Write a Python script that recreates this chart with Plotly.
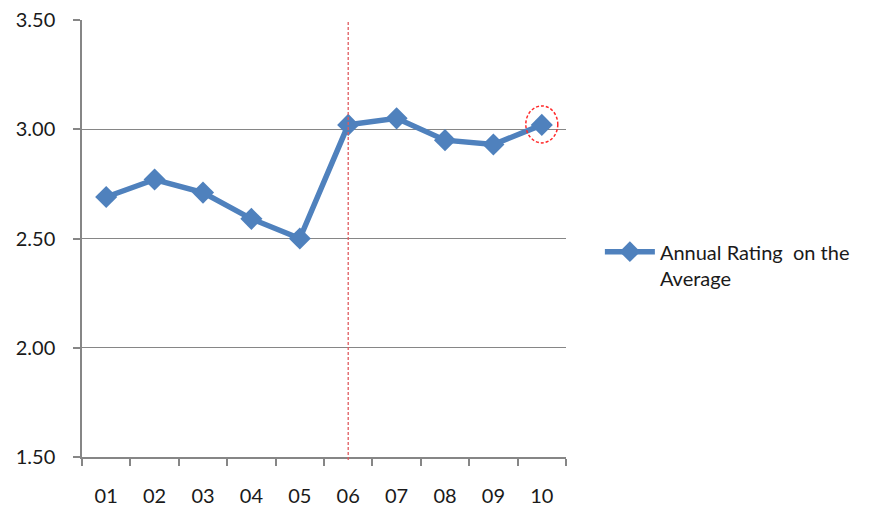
import plotly.graph_objects as go

categories = ["01", "02", "03", "04", "05", "06", "07", "08", "09", "10"]
ratings = [2.69, 2.77, 2.71, 2.59, 2.50, 3.02, 3.05, 2.95, 2.93, 3.02]
series_name = "Annual Rating  on the<br>Average"
marker_category = "06"
highlight_index = 9

fig = go.Figure()
fig.add_trace(go.Scatter(
    x=categories, y=ratings, name=series_name, mode="lines+markers",
    line=dict(color="#4F81BD", width=5.5),
    marker=dict(symbol="diamond", size=17, color="#4F81BD"),
))

vline_idx = categories.index(marker_category)
fig.add_shape(type="line", xref="x", yref="paper",
              x0=vline_idx, x1=vline_idx, y0=-0.007, y1=1,
              line=dict(color="#E05A5E", width=1.3, dash="3px,2px"))
fig.add_shape(type="circle", xref="x", yref="y",
              xsizemode="pixel", ysizemode="pixel",
              xanchor=highlight_index, yanchor=ratings[highlight_index],
              x0=-16, x1=16, y0=-18, y1=19,
              line=dict(color="#FF2A2A", width=1.5, dash="3px,2px"))

fig.update_layout(
    width=878, height=510,
    margin=dict(l=74, r=320, t=12, b=61, autoexpand=False),
    plot_bgcolor="white", paper_bgcolor="white",
    font=dict(family="Lato, 'Open Sans', sans-serif", size=20, color="#1a1a1a"),
    showlegend=True,
    legend=dict(x=1.07, y=0.44, xanchor="left", yanchor="middle", valign="top",
                itemwidth=50, font=dict(size=20, color="#1a1a1a"),
                bgcolor="rgba(0,0,0,0)"),
    xaxis=dict(type="category", range=[-0.5, 9.5], showline=True, linecolor="#868686",
               linewidth=1.5, ticks="outside", tickson="boundaries", ticklen=7,
               tickcolor="#868686", tickwidth=1.5, showgrid=False, zeroline=False,
               automargin=False, ticklabelstandoff=20, tickfont=dict(size=20)),
    yaxis=dict(range=[1.5, 3.5], dtick=0.5, tickformat=".2f", showline=True,
               linecolor="#868686", linewidth=1.5, ticks="outside", ticklen=7,
               tickcolor="#868686", tickwidth=1.5, showgrid=True,
               gridcolor="#868686", gridwidth=1.2, zeroline=False,
               automargin=False, ticklabelstandoff=14, ticklabeloverflow="allow",
               tickfont=dict(size=20)),
)

fig.write_html("out.html")
